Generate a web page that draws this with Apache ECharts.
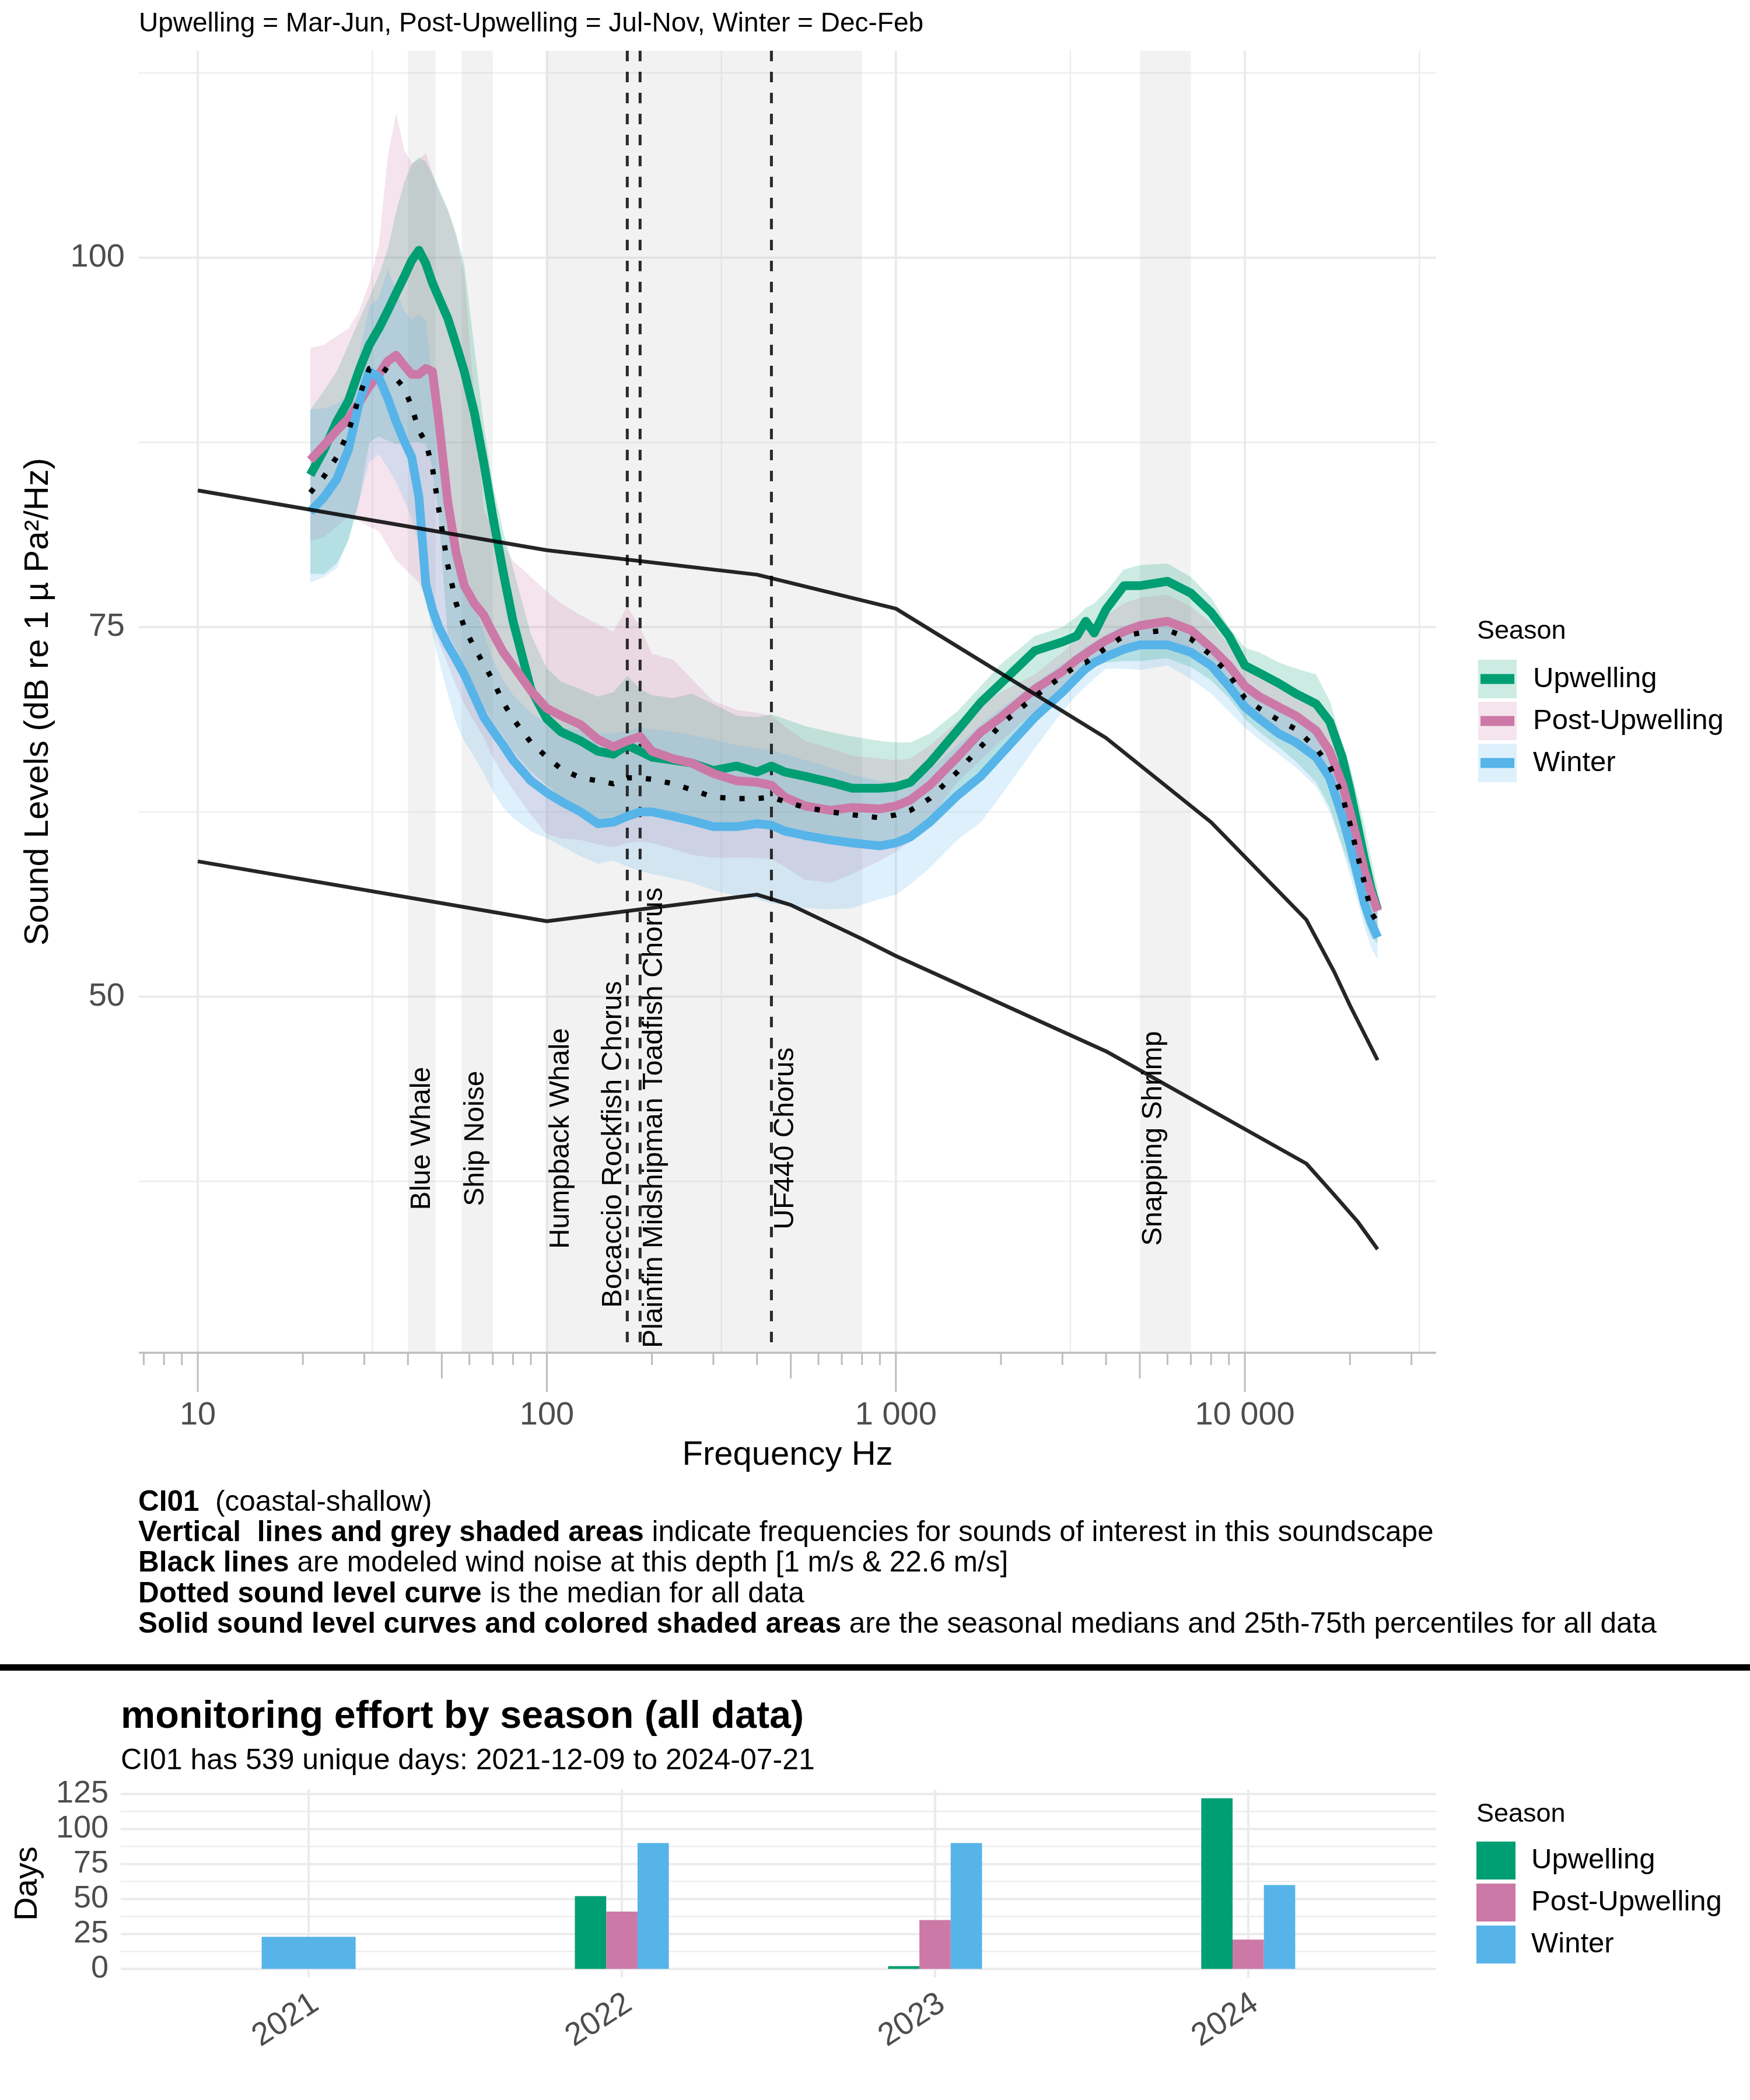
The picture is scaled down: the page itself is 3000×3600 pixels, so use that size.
<!DOCTYPE html>
<html>
<head>
<meta charset="utf-8">
<script src="https://cdn.jsdelivr.net/npm/echarts@6/dist/echarts.min.js"></script>
<style>html,body{margin:0;padding:0;background:#fff}#c{width:3000px;height:3600px}</style>
</head>
<body>
<div id="c"></div>
<script>
// ---------------- DATA ----------------
const freq = [21,23,25,27,29,31,33,35,37,39,41,43,45,47,49,52,55,58,62,66,70,75,80,90,100,
  110,125,140,155,170,185,200,230,260,300,350,400,440,480,550,650,750,900,1000,1100,
  1250,1500,1750,2000,2500,3000,3300,3500,3700,4000,4500,5000,6000,7000,8000,9000,10000,11000,12500,14000,
  16000,17500,19000,20000,21000,22000,23000,24000];

const upwellingMedian = [85.3,87.0,88.9,90.3,92.4,94.1,95.2,96.4,97.6,98.7,99.8,100.5,99.6,98.3,97.3,95.9,94.1,92.3,89.5,86.1,82.5,78.7,75.4,70.8,68.8,
  67.9,67.3,66.6,66.4,67.0,66.6,66.2,66.0,65.8,65.3,65.6,65.2,65.6,65.2,64.9,64.5,64.1,64.1,64.2,64.5,
  65.8,68.0,69.9,71.2,73.4,74.0,74.4,75.4,74.6,76.2,77.8,77.8,78.1,77.3,76.0,74.4,72.4,71.9,71.2,70.5,
  69.8,68.6,66.2,64.0,61.6,59.3,57.3,55.9];
const upwellingLower = [78.6,78.6,79.3,80.8,83.6,87.5,87.9,87.6,87.4,87.4,87.5,87.5,87.4,85.8,82.5,74.5,73.5,72.3,71.0,69.7,68.6,67.6,66.6,65.2,64.3,
  63.5,62.8,62.0,62.0,62.5,62.8,62.8,62.5,62.2,61.8,61.8,62.0,61.9,61.5,61.2,60.9,60.7,60.5,60.7,61.1,
  62.1,63.9,65.2,66.4,68.6,70.4,71.5,72.0,72.3,72.6,72.7,72.7,72.9,72.3,71.4,70.2,68.8,67.9,66.9,65.9,
  64.5,62.8,60.2,58.8,57.0,55.2,54.0,53.6];
const upwellingUpper = [89.7,91.0,92.3,94.1,95.8,97.3,98.8,100.6,103.1,105.1,106.3,106.8,106.5,105.6,104.7,103.3,101.6,99.5,93.9,88.6,84.7,81.5,79.0,74.5,72.2,
  71.3,70.8,70.3,70.6,71.7,70.8,70.4,70.2,70.5,69.8,69.0,68.9,69.1,68.8,68.3,67.9,67.6,67.3,67.2,67.2,
  67.8,69.3,71.0,72.5,74.4,75.0,75.7,76.3,76.6,77.4,78.9,79.2,79.3,78.4,77.0,75.0,73.6,73.3,72.6,72.2,
  71.8,70.0,67.2,65.6,63.6,61.6,59.3,57.3];

const postMedian = [86.3,87.3,88.3,89.1,90.2,91.3,92.1,93.0,93.4,92.7,92.1,92.1,92.5,92.3,89.0,83.5,80.0,77.8,76.6,75.8,74.6,73.3,72.4,70.7,69.5,
  69.0,68.4,67.4,66.9,67.3,67.6,66.6,66.1,65.8,65.1,64.6,64.5,64.3,63.5,62.9,62.6,62.8,62.7,62.9,63.3,
  64.3,66.2,67.9,68.9,70.8,72.0,72.8,73.2,73.6,74.1,74.7,75.1,75.4,74.8,73.6,72.4,71.0,70.3,69.6,69.0,
  68.0,66.6,64.4,62.5,60.5,58.5,57.0,55.8];
const postLower = [80.8,81.1,81.8,82.5,82.2,81.8,81.5,80.5,79.5,79.0,78.5,78.0,77.0,75.5,74.0,72.5,71.0,69.8,68.6,67.5,66.2,65.0,64.0,62.3,61.0,
  60.7,60.6,60.3,60.1,60.4,60.5,60.4,60.0,59.6,59.4,59.4,59.4,59.3,58.8,57.9,57.7,58.3,59.2,59.8,60.5,
  62.0,64.5,66.0,67.3,69.3,70.9,71.9,72.4,72.8,73.2,73.7,74.0,74.1,73.5,72.5,71.1,69.8,69.0,68.2,67.5,
  66.5,65.0,62.6,60.6,58.6,56.6,55.2,54.6];
const postUpper = [93.9,94.1,94.7,95.2,96.4,98.3,100.8,106.8,109.8,107.3,106.4,106.6,107.1,105.7,104.5,103.2,101.4,98.8,90.5,82.9,81.8,80.6,79.5,78.4,77.4,
  76.6,75.8,75.2,74.7,76.4,75.0,73.2,72.8,71.5,70.0,69.4,69.2,69.0,68.3,67.3,66.8,66.3,66.1,66.0,66.1,
  67.0,68.6,69.8,70.6,71.8,73.3,74.2,74.8,75.2,75.8,76.6,77.0,77.2,76.4,75.3,73.8,72.4,71.9,71.0,70.4,
  69.4,68.0,66.0,64.0,62.0,60.0,58.2,56.6];

const winterMedian = [82.8,83.8,85.0,87.0,90.2,92.3,91.9,90.5,88.9,87.6,86.5,83.8,77.9,76.2,75.0,73.8,72.8,71.8,70.3,68.9,68.0,67.0,66.0,64.6,63.8,
  63.2,62.5,61.7,61.8,62.2,62.5,62.5,62.2,61.9,61.5,61.5,61.7,61.6,61.2,60.9,60.6,60.4,60.2,60.4,60.8,
  61.8,63.6,64.9,66.4,68.9,70.6,71.6,72.2,72.6,73.0,73.5,73.8,73.8,73.3,72.4,71.0,69.6,68.8,67.8,67.2,
  66.2,64.8,62.2,60.3,58.3,56.3,55.0,54.0];
const winterLower = [78.0,78.4,79.0,81.0,83.5,86.2,86.7,85.8,84.8,83.6,82.4,80.5,77.0,74.6,72.8,70.5,68.5,67.3,66.2,65.1,63.9,62.8,62.1,61.2,60.7,
  60.2,59.5,59.0,59.2,58.8,58.5,58.3,58.0,57.7,57.2,56.8,56.6,56.3,56.2,56.0,55.9,56.0,56.6,56.9,57.6,
  58.7,60.6,61.8,63.6,66.8,69.3,70.4,71.0,71.5,72.2,72.2,72.1,72.4,71.5,70.5,69.3,68.2,67.4,66.4,65.5,
  64.2,62.5,60.0,58.2,56.5,54.7,53.3,52.5];
const winterUpper = [89.7,89.8,90.1,90.8,93.5,96.7,97.3,99.2,97.8,96.4,95.8,96.2,95.7,91.8,88.1,84.2,81.0,78.8,76.5,74.6,72.8,71.4,70.4,69.2,68.5,
  68.2,68.0,67.8,67.8,68.0,68.2,68.1,67.9,67.7,67.4,67.0,66.8,66.7,66.4,66.0,65.5,65.0,64.6,64.5,64.7,
  65.3,67.0,68.4,69.5,71.2,72.5,73.2,73.7,74.0,74.5,75.1,75.4,75.6,75.0,73.9,72.6,71.2,70.5,69.8,69.3,
  68.3,66.8,64.6,62.6,60.6,58.6,57.0,56.0];

const allMedian = [84.1,85.2,86.5,88.2,90.6,92.5,92.7,92.3,91.8,91.2,89.9,88.3,87.5,85.8,83.0,79.2,76.6,75.0,73.6,72.5,71.4,69.9,68.8,67.2,66.2,
  65.4,64.8,64.6,64.4,64.8,64.8,64.7,64.4,64.0,63.5,63.4,63.4,63.5,63.2,62.8,62.5,62.3,62.1,62.3,62.6,
  63.4,65.2,66.9,68.4,70.3,71.7,72.4,72.6,73.0,73.6,74.4,74.6,74.8,74.2,73.1,71.8,70.2,69.5,68.7,68.1,
  66.8,65.6,63.6,61.7,59.6,57.7,55.7,55.0];

const windHighFreq = [10,100,400,1000,4000,8000,15000,18000,20000,24000];
const windHighLevel = [84.25,80.2,78.55,76.25,67.5,61.8,55.2,51.7,49.4,45.7];
const windLowFreq = [10,100,400,500,800,1000,4000,15000,18000,21000,24000];
const windLowLevel = [59.15,55.1,56.9,56.2,53.9,52.75,46.3,38.7,36.6,34.8,32.9];

const bandNames = ['Blue Whale','Ship Noise','Humpback Whale','Snapping Shrimp'];
const bandLow = [40,57,100,5000];
const bandHigh = [48,70,800,7000];
const markerNames = ['Bocaccio Rockfish Chorus','Plainfin Midshipman Toadfish Chorus','UF440 Chorus'];
const markerFreq = [170,185,440];

const xTickValues = [10,100,1000,10000];
const xTickLabels = ['10','100','1 000','10 000'];
const xMinorGrid = [31.6228,316.228,3162.28,31622.8];
const yTickValues = [50,75,100];
const yMinorGrid = [37.5,62.5,87.5,112.5];

const seasons = ['Upwelling','Post-Upwelling','Winter'];
const years = ['2021','2022','2023','2024'];
const upwellingDays = [null,52,2,122];
const postUpwellingDays = [null,41,35,21];
const winterDays = [23,90,90,60];
const dayTicks = [0,25,50,75,100,125];
const dayMinor = [12.5,37.5,62.5,87.5,112.5];

// ---------------- STYLE / LAYOUT ----------------
const FONT = "'Liberation Sans', Arial, Helvetica, sans-serif";
const COLORS = ['#009E73','#CC79A7','#56B4E9'];
const X_MIN = Math.pow(10,0.831), X_MAX = Math.pow(10,4.548);
const Y_MIN = 25.9, Y_MAX = 114.0;
const D_MIN = -6.1, D_MAX = 128.1;
const BAND_LABEL_LEVEL = 40.4;
const MARKER_LABEL_LEVEL = [40.0,41.8,40.4];
const MARKER_LABEL_SIDE = ['bottom','top','top'];
const GRID_C = '#ebebeb';
const AXIS_C = '#bdbdbd';
const TICK_C = '#4d4d4d';

function rgba(hex,a){const n=parseInt(hex.slice(1),16);return `rgba(${n>>16&255},${n>>8&255},${n&255},${a})`;}
function txt(x,y,text,size,o){o=o||{};return {type:'text',x,y,rotation:o.rot||0,z:o.z||10,silent:true,
  style:{text,fontSize:size,fontFamily:FONT,fontWeight:o.bold?'bold':'normal',fill:o.color||'#000',
    align:o.align||'left',textAlign:o.align||'left',verticalAlign:o.va||'middle',textVerticalAlign:o.va||'middle',rich:o.rich}};}

function layer(gridIdx,n,z,draw){
  const anchor = gridIdx===0 ? [100,50] : [1,0];
  return {type:'custom',xAxisIndex:gridIdx,yAxisIndex:gridIdx,z,silent:true,clip:false,animation:false,
    data:Array.from({length:n},()=>anchor.slice()),
    renderItem:(params,api)=>draw(params.dataIndex,api)};
}

const series = [];

// main panel grid lines
series.push(layer(0,1,1,(i,api)=>{
  const ch=[];
  const top=api.coord([100,Y_MAX])[1], bot=api.coord([100,Y_MIN])[1];
  const lft=api.coord([X_MIN,50])[0], rgt=api.coord([X_MAX,50])[0];
  xMinorGrid.forEach(v=>{const x=api.coord([v,50])[0];ch.push({type:'line',shape:{x1:x,y1:top,x2:x,y2:bot},style:{stroke:GRID_C,lineWidth:2.2}});});
  xTickValues.forEach(v=>{const x=api.coord([v,50])[0];ch.push({type:'line',shape:{x1:x,y1:top,x2:x,y2:bot},style:{stroke:GRID_C,lineWidth:4}});});
  yMinorGrid.forEach(v=>{const y=api.coord([100,v])[1];ch.push({type:'line',shape:{x1:lft,y1:y,x2:rgt,y2:y},style:{stroke:GRID_C,lineWidth:2.2}});});
  yTickValues.forEach(v=>{const y=api.coord([100,v])[1];ch.push({type:'line',shape:{x1:lft,y1:y,x2:rgt,y2:y},style:{stroke:GRID_C,lineWidth:4}});});
  return {type:'group',children:ch};
}));

// grey shaded bands
series.push(layer(0,bandNames.length,2,(i,api)=>{
  const p0=api.coord([bandLow[i],Y_MAX]), p1=api.coord([bandHigh[i],Y_MIN]);
  return {type:'rect',shape:{x:p0[0],y:p0[1],width:p1[0]-p0[0],height:p1[1]-p0[1]},style:{fill:'rgba(190,190,190,0.2)'}};
}));

// ribbons (25th-75th percentiles)
const ribbonSets = [[upwellingLower,upwellingUpper],[postLower,postUpper],[winterLower,winterUpper]];
ribbonSets.forEach((rs,s)=>{
  series.push(layer(0,1,3,(i,api)=>{
    const pts=[];
    for(let k=0;k<freq.length;k++) pts.push(api.coord([freq[k],rs[1][k]]));
    for(let k=freq.length-1;k>=0;k--) pts.push(api.coord([freq[k],rs[0][k]]));
    return {type:'polygon',shape:{points:pts},style:{fill:rgba(COLORS[s],0.2)}};
  }));
});

// dashed vertical marker lines
series.push(layer(0,markerFreq.length,4,(i,api)=>{
  const p0=api.coord([markerFreq[i],Y_MAX]), p1=api.coord([markerFreq[i],Y_MIN]);
  return {type:'line',shape:{x1:p0[0],y1:p0[1],x2:p1[0],y2:p1[1]},style:{stroke:'#2a2a2a',lineWidth:5,lineDash:[18,18]}};
}));

// seasonal medians
[upwellingMedian,postMedian,winterMedian].forEach((m,s)=>{
  series.push({type:'line',name:seasons[s],xAxisIndex:0,yAxisIndex:0,z:5,silent:true,animation:false,
    symbol:'none',data:freq.map((f,k)=>[f,m[k]]),
    lineStyle:{color:COLORS[s],width:15,cap:'butt',join:'round'}});
});
// overall median (dotted)
series.push({type:'line',name:'All',xAxisIndex:0,yAxisIndex:0,z:6,silent:true,animation:false,
  symbol:'none',data:freq.map((f,k)=>[f,allMedian[k]]),
  lineStyle:{color:'#000',width:9,type:[9,24],cap:'butt',join:'round'}});
// wind noise
series.push({type:'line',xAxisIndex:0,yAxisIndex:0,z:7,silent:true,animation:false,symbol:'none',
  data:windHighFreq.map((f,k)=>[f,windHighLevel[k]]),lineStyle:{color:'rgba(0,0,0,0.85)',width:6.5}});
series.push({type:'line',xAxisIndex:0,yAxisIndex:0,z:7,silent:true,animation:false,symbol:'none',
  data:windLowFreq.map((f,k)=>[f,windLowLevel[k]]),lineStyle:{color:'rgba(0,0,0,0.85)',width:6.5}});

// band / marker labels
series.push(layer(0,bandNames.length,8,(i,api)=>{
  const p=api.coord([bandLow[i],BAND_LABEL_LEVEL]);
  return txt(p[0],p[1],bandNames[i],48,{rot:Math.PI/2,align:'center',va:'top'});
}));
series.push(layer(0,markerNames.length,8,(i,api)=>{
  const p=api.coord([markerFreq[i],MARKER_LABEL_LEVEL[i]]);
  return txt(p[0],p[1],markerNames[i],48,{rot:Math.PI/2,align:'center',va:MARKER_LABEL_SIDE[i]});
}));

// x axis line, log ticks, tick labels; y tick labels
series.push(layer(0,1,9,(i,api)=>{
  const ch=[];
  const bot=api.coord([100,Y_MIN])[1];
  const lft=api.coord([X_MIN,50])[0], rgt=api.coord([X_MAX,50])[0];
  ch.push({type:'line',shape:{x1:lft,y1:bot,x2:rgt,y2:bot},style:{stroke:AXIS_C,lineWidth:3.5}});
  for(let e=0;e<=4;e++){
    for(let m=1;m<=9;m++){
      const v=m*Math.pow(10,e);
      if(v<X_MIN||v>X_MAX) continue;
      const x=api.coord([v,50])[0];
      const len = m===1?67:(m===5?44:21);
      ch.push({type:'line',shape:{x1:x,y1:bot,x2:x,y2:bot+len},style:{stroke:AXIS_C,lineWidth:3}});
    }
  }
  xTickValues.forEach((v,k)=>{const x=api.coord([v,50])[0];ch.push(txt(x,bot+108,xTickLabels[k],56,{align:'center',color:TICK_C}));});
  yTickValues.forEach(v=>{const y=api.coord([100,v])[1];ch.push(txt(lft-24,y,String(v),56,{align:'right',color:TICK_C}));});
  return {type:'group',children:ch};
}));

// ---------- bar chart ----------
const dayData=[upwellingDays,postUpwellingDays,winterDays];
series.push(layer(1,1,1,(i,api)=>{
  const ch=[];
  const top=api.coord([1,D_MAX])[1], bot=api.coord([1,D_MIN])[1];
  const lft=api.coord([0.4,0])[0], rgt=api.coord([4.6,0])[0];
  years.forEach((y,k)=>{const x=api.coord([k+1,0])[0];ch.push({type:'line',shape:{x1:x,y1:top,x2:x,y2:bot},style:{stroke:GRID_C,lineWidth:4}});});
  dayMinor.forEach(v=>{const yy=api.coord([1,v])[1];ch.push({type:'line',shape:{x1:lft,y1:yy,x2:rgt,y2:yy},style:{stroke:GRID_C,lineWidth:2.2}});});
  dayTicks.forEach(v=>{const yy=api.coord([1,v])[1];ch.push({type:'line',shape:{x1:lft,y1:yy,x2:rgt,y2:yy},style:{stroke:GRID_C,lineWidth:4}});
    ch.push(txt(lft-21,yy,String(v),54,{align:'right',color:TICK_C}));});
  years.forEach((y,k)=>{const x=api.coord([k+1,0])[0];ch.push(txt(x+12,bot+40,y,55,{align:'right',color:TICK_C,rot:33*Math.PI/180}));});
  return {type:'group',children:ch};
}));
series.push(layer(1,years.length,3,(i,api)=>{
  const present=[0,1,2].filter(s=>dayData[s][i]!=null);
  const c0=api.coord([i+1-0.15,0]), c1=api.coord([i+1+0.15,0]);
  const w=(c1[0]-c0[0])/present.length;
  const ch=present.map((s,k)=>{
    const t=api.coord([i+1,dayData[s][i]]);
    return {type:'rect',shape:{x:c0[0]+k*w,y:t[1],width:w,height:c0[1]-t[1]},style:{fill:COLORS[s]}};
  });
  return {type:'group',children:ch};
}));

// ---------------- GRAPHIC (titles, captions, legends) ----------------
const g=[];
g.push(txt(238,41,'Upwelling = Mar-Jun, Post-Upwelling = Jul-Nov, Winter = Dec-Feb',46));
g.push(txt(66,1203,'Sound Levels (dB re 1 µ Pa²/Hz)',58,{rot:Math.PI/2,align:'center'}));
g.push(txt(1350,2495,'Frequency Hz',58,{align:'center'}));
const rich={b:{fontWeight:'bold',fontSize:49.5,fontFamily:FONT,fill:'#000'}};
const caps=['{b|CI01}  (coastal-shallow)',
 '{b|Vertical  lines and grey shaded areas} indicate frequencies for sounds of interest in this soundscape',
 '{b|Black lines} are modeled wind noise at this depth [1 m/s & 22.6 m/s]',
 '{b|Dotted sound level curve} is the median for all data',
 '{b|Solid sound level curves and colored shaded areas} are the seasonal medians and 25th-75th percentiles for all data'];
caps.forEach((c,k)=>g.push(txt(237,2576+k*52.3,c,49.5,{rich})));
g.push({type:'rect',shape:{x:0,y:2853,width:3000,height:11},style:{fill:'#000'},silent:true});
g.push(txt(207,2944,'monitoring effort by season (all data)',66.5,{bold:true}));
g.push(txt(207,3019,'CI01 has 539 unique days: 2021-12-09 to 2024-07-21',50));
g.push(txt(48,3229,'Days',56,{rot:Math.PI/2,align:'center'}));
// main legend
g.push(txt(2532,1083,'Season',45));
seasons.forEach((s,k)=>{
  const y0=1131+k*72;
  g.push({type:'rect',shape:{x:2534,y:y0,width:66,height:66},style:{fill:rgba(COLORS[k],0.2)},silent:true});
  g.push({type:'rect',shape:{x:2538,y:y0+33-8.5,width:58,height:17},style:{fill:COLORS[k]},silent:true});
  g.push(txt(2628,y0+33,s,49));
});
// bar legend
g.push(txt(2531,3111,'Season',45));
seasons.forEach((s,k)=>{
  const y0=3157+k*72;
  g.push({type:'rect',shape:{x:2531,y:y0,width:67,height:65},style:{fill:COLORS[k]},silent:true});
  g.push(txt(2625,y0+32.5,s,49));
});

const chart = echarts.init(document.getElementById('c'),null,{renderer:'canvas',width:3000,height:3600,devicePixelRatio:1});
chart.setOption({
  animation:false,
  backgroundColor:'#ffffff',
  grid:[{left:238,top:87,width:2224,height:2232},{left:207,top:3068,width:2255,height:322}],
  xAxis:[{type:'log',logBase:10,gridIndex:0,min:X_MIN,max:X_MAX,show:false},
         {type:'value',gridIndex:1,min:0.4,max:4.6,show:false}],
  yAxis:[{type:'value',gridIndex:0,min:Y_MIN,max:Y_MAX,show:false},
         {type:'value',gridIndex:1,min:D_MIN,max:D_MAX,show:false}],
  graphic:{elements:g},
  series
});
</script>
</body>
</html>
